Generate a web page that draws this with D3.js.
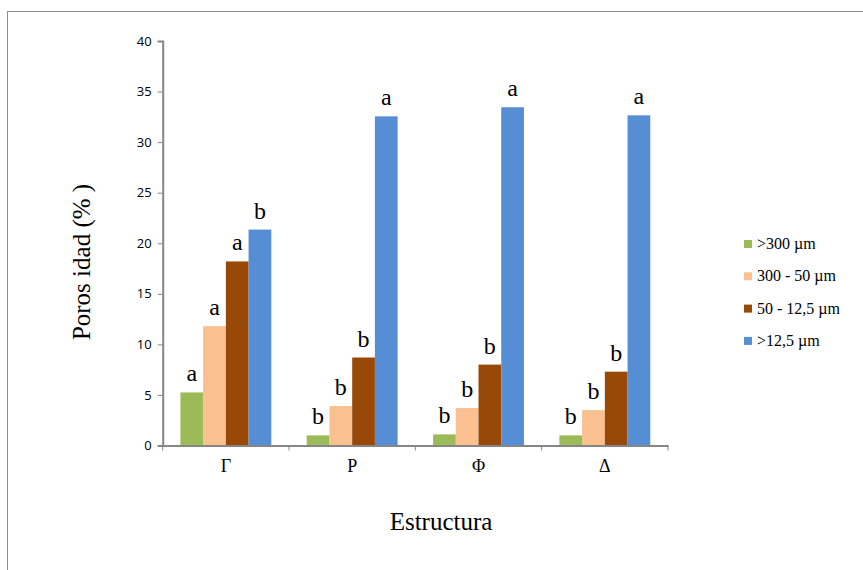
<!DOCTYPE html>
<html><head><meta charset="utf-8">
<script src="https://cdn.jsdelivr.net/npm/d3@7"></script>
<style>body{margin:0;background:#fff} .serif{font-family:'Liberation Serif','DejaVu Serif','Times New Roman',serif}</style>
</head><body>
<script>
const categories = ["Γ", "Ρ", "Φ", "Δ"];
const seriesNames = [">300 µm", "300 - 50 µm", "50 - 12,5 µm", ">12,5 µm"];
const colors = ["#9BBB59", "#FAC090", "#984807", "#558ED5"];
const s300 = [5.25, 1.0, 1.1, 1.0];
const s300_50 = [11.8, 3.9, 3.7, 3.5];
const s50_12 = [18.2, 8.7, 8.0, 7.3];
const s12 = [21.35, 32.55, 33.45, 32.65];
const letters300 = ["a", "b", "b", "b"];
const letters300_50 = ["a", "b", "b", "b"];
const letters50_12 = ["a", "b", "b", "b"];
const letters12 = ["b", "a", "a", "a"];
const yTicks = [0, 5, 10, 15, 20, 25, 30, 35, 40];

const series = [s300, s300_50, s50_12, s12];
const letterSets = [letters300, letters300_50, letters50_12, letters12];

const W = 863, H = 570;
const svg = d3.select("body").append("svg").attr("width", W).attr("height", H);
svg.append("rect").attr("x", 7.5).attr("y", 11.5).attr("width", 900).attr("height", 600)
  .attr("fill", "none").attr("stroke", "#8c8c8c").attr("stroke-width", 1);

const x0 = 162.7, x1 = 668, yTop = 41, yBot = 445.5;
const x = d3.scaleBand().domain(categories).range([x0, x1]).paddingInner(0).paddingOuter(0);
const xi = d3.scaleBand().domain(d3.range(4)).range([0, x.bandwidth()]).paddingInner(0).paddingOuter(0.78);
const y = d3.scaleLinear().domain([0, 40]).range([yBot, yTop]);

// bars
series.forEach((vals, si) => {
  svg.append("g").selectAll("rect").data(vals).join("rect")
    .attr("x", (d, i) => x(categories[i]) + xi(si))
    .attr("y", d => y(d))
    .attr("width", xi.bandwidth())
    .attr("height", d => y(0) - y(d))
    .attr("fill", colors[si]);
  svg.append("g").selectAll("text").data(vals).join("text")
    .attr("class", "serif")
    .attr("x", (d, i) => x(categories[i]) + xi(si) + xi.bandwidth() / 2)
    .attr("y", d => y(d) - 11)
    .attr("text-anchor", "middle")
    .attr("font-size", 24)
    .attr("fill", "#000")
    .text((d, i) => letterSets[si][i]);
});

// y axis
const yAxis = d3.axisLeft(y).tickValues(yTicks).tickSize(5).tickPadding(6);
const gy = svg.append("g").attr("transform", `translate(${x0},0)`).call(yAxis);
gy.select(".domain").attr("stroke", "#868686").attr("stroke-width", 2);
gy.selectAll(".tick line").attr("stroke", "#868686");
gy.selectAll(".tick text").attr("font-family", "'Open Sans', 'Liberation Sans', sans-serif").attr("font-size", 13).attr("fill", "#000");

// x axis
const xAxis = d3.axisBottom(x).tickSize(0).tickPadding(14);
const gx = svg.append("g").attr("transform", `translate(0,${yBot})`).call(xAxis);
gx.select(".domain").attr("stroke", "#868686").attr("stroke-width", 2);
gx.selectAll(".tick text").attr("font-family", null).attr("class", "serif").attr("font-size", 18).attr("fill", "#000");
const bounds = categories.map(c => x(c)).concat([x1]);
gx.append("g").selectAll("line").data(bounds).join("line")
  .attr("x1", d => d).attr("x2", d => d).attr("y1", 0).attr("y2", 5)
  .attr("stroke", "#868686");

// axis titles
svg.append("text").attr("class", "serif").attr("transform", `translate(90,262) rotate(-90)`)
  .attr("text-anchor", "middle").attr("font-size", 25)
  .text("Poros idad (% )");
svg.append("text").attr("class", "serif").attr("x", 441).attr("y", 530).attr("text-anchor", "middle")
  .attr("font-size", 25)
  .text("Estructura");

// legend
const leg = svg.append("g");
seriesNames.forEach((n, i) => {
  const ly = 244 + i * 32.3;
  leg.append("rect").attr("x", 744).attr("y", ly - 4).attr("width", 8).attr("height", 8).attr("fill", colors[i]);
  leg.append("text").attr("class", "serif").attr("x", 757).attr("y", ly + 5)
    .attr("font-size", 16)
    .text(n);
});
</script>
</body></html>
